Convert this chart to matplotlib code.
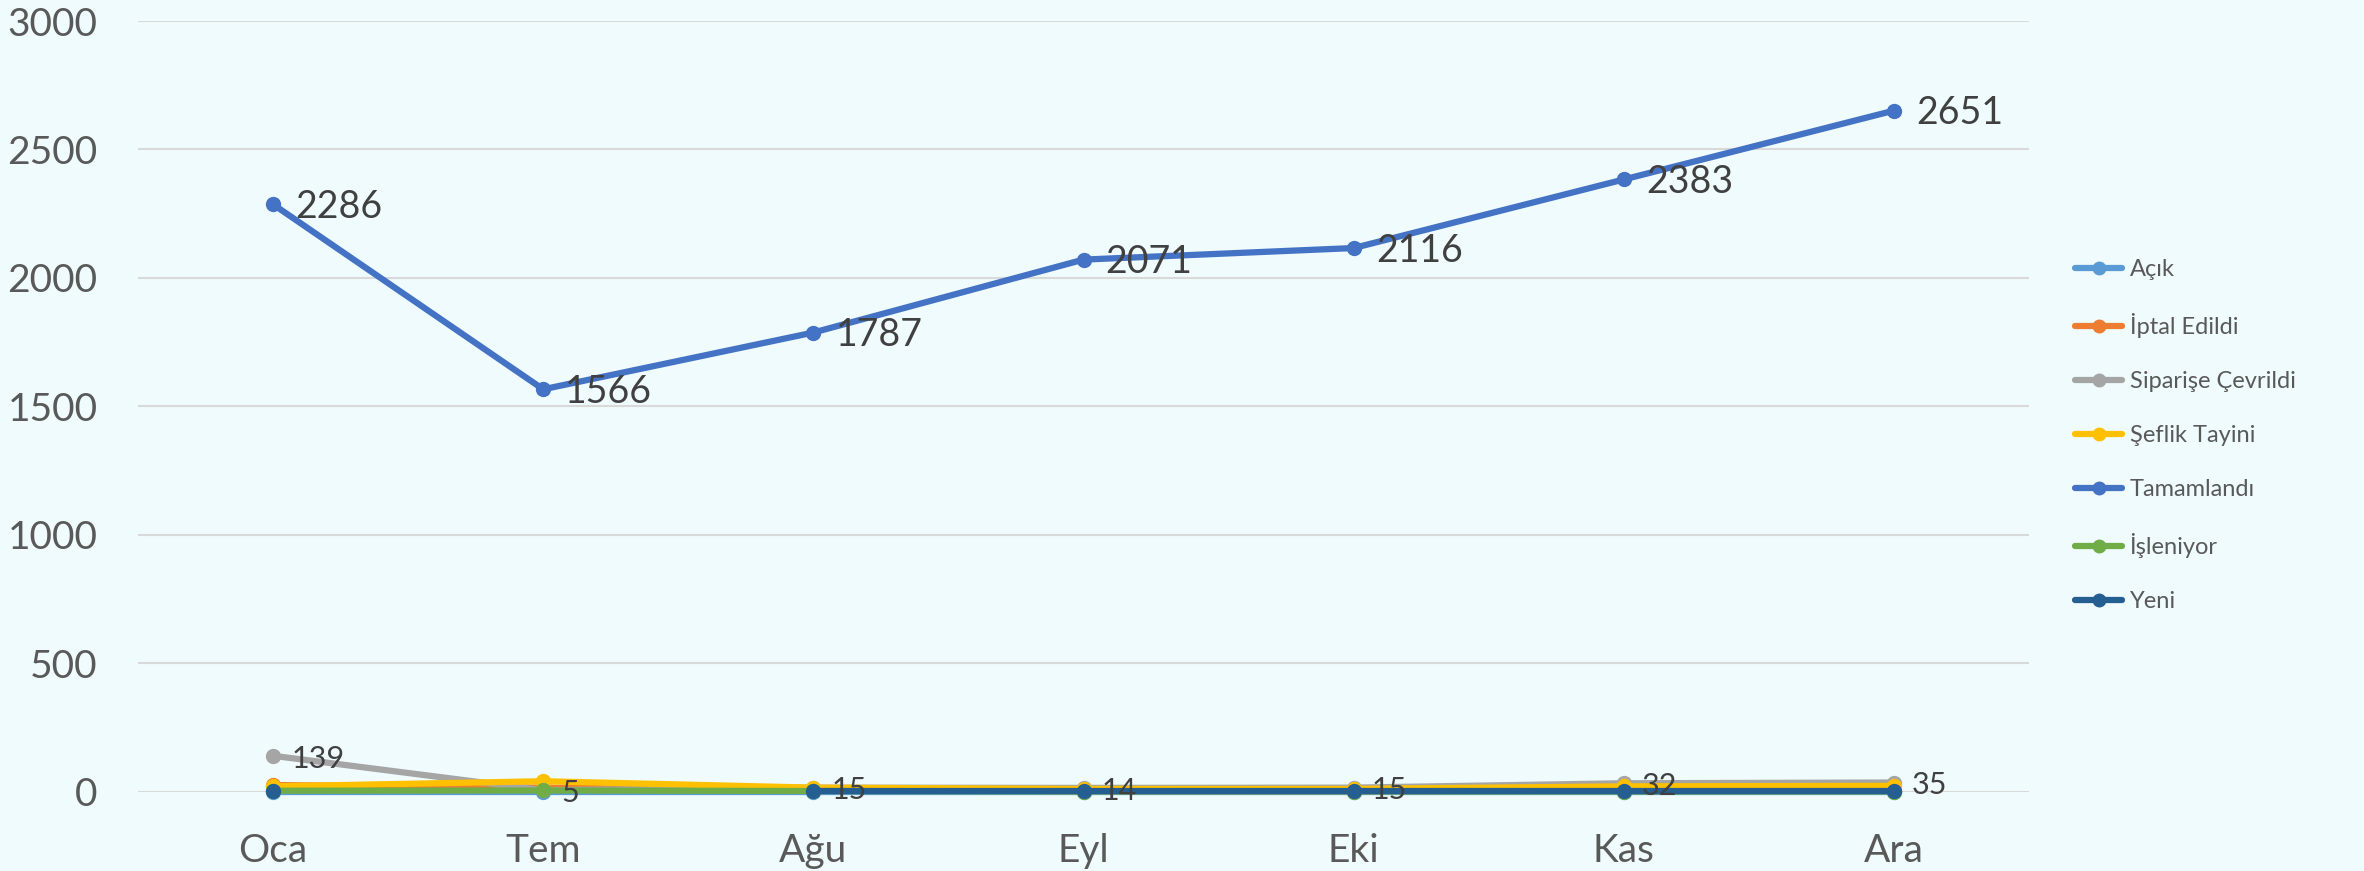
import numpy as np
import matplotlib.pyplot as plt

plt.rcParams['font.family'] = ['Lato', 'DejaVu Sans']

months = ["Oca", "Tem", "Ağu", "Eyl", "Eki", "Kas", "Ara"]

acik = [0, 0, 0, 0, 0, 0, 0]
iptal = [25, 15, 5, 2, 2, 3, 3]
siparis = [139, 5, 15, 14, 15, 32, 35]
seflik = [20, 40, 15, 10, 10, 20, 22]
tamam = [2286, 1566, 1787, 2071, 2116, 2383, 2651]
isleniyor = [3, 4, 2, 0, 0, 0, 0]
yeni = [2, np.nan, 1, 1, 1, 1, 1]

series = [
    ("Açık", acik, "#5B9BD5"),
    ("İptal Edildi", iptal, "#ED7D31"),
    ("Siparişe Çevrildi", siparis, "#A5A5A5"),
    ("Şeflik Tayini", seflik, "#FFC000"),
    ("Tamamlandı", tamam, "#4472C4"),
    ("İşleniyor", isleniyor, "#70AD47"),
    ("Yeni", yeni, "#255E91"),
]

bg = "#EFFBFC"
fig = plt.figure(figsize=(23.64, 8.71), dpi=100, facecolor=bg)
ax = fig.add_axes([138 / 2364, 1 - 791.5 / 871, 1891 / 2364, 770.5 / 871])
ax.set_facecolor("none")

x = np.arange(len(months))
for name, vals, col in series:
    ax.plot(x, vals, color=col, lw=4.5, marker="o", ms=10,
            label=name, clip_on=False, zorder=3, solid_capstyle="round")

# data labels
for xi, v in zip(x, tamam):
    ax.annotate(str(v), (xi, v), xytext=(16, -2), textcoords="offset points",
                ha="left", va="center", fontsize=27, color="#404040", zorder=5)
for xi, v in zip(x, siparis):
    ax.annotate(str(v), (xi, v), xytext=(13, -2), textcoords="offset points",
                ha="left", va="center", fontsize=22, color="#404040", zorder=5)

ax.set_xlim(-0.5, len(months) - 0.5)
ax.set_ylim(0, 3000)
ax.set_yticks(np.arange(0, 3001, 500))
ax.set_xticks(x)
ax.set_xticklabels(months)
ax.grid(axis="y", color="#D9D9D9", lw=1.5, zorder=0)
ax.set_axisbelow(True)
for s in ax.spines.values():
    s.set_visible(False)
ax.tick_params(axis="both", length=0, labelsize=28, labelcolor="#595959")
ax.tick_params(axis="x", pad=30)
ax.tick_params(axis="y", pad=29)

fig.legend(loc="center left", bbox_to_anchor=(2054 / 2364, 0.5), frameon=False,
           fontsize=17, labelcolor="#595959", handlelength=2.0, handletextpad=0.3,
           labelspacing=1.4, markerscale=0.9)

fig.savefig("out.png", dpi=100, facecolor=bg)
